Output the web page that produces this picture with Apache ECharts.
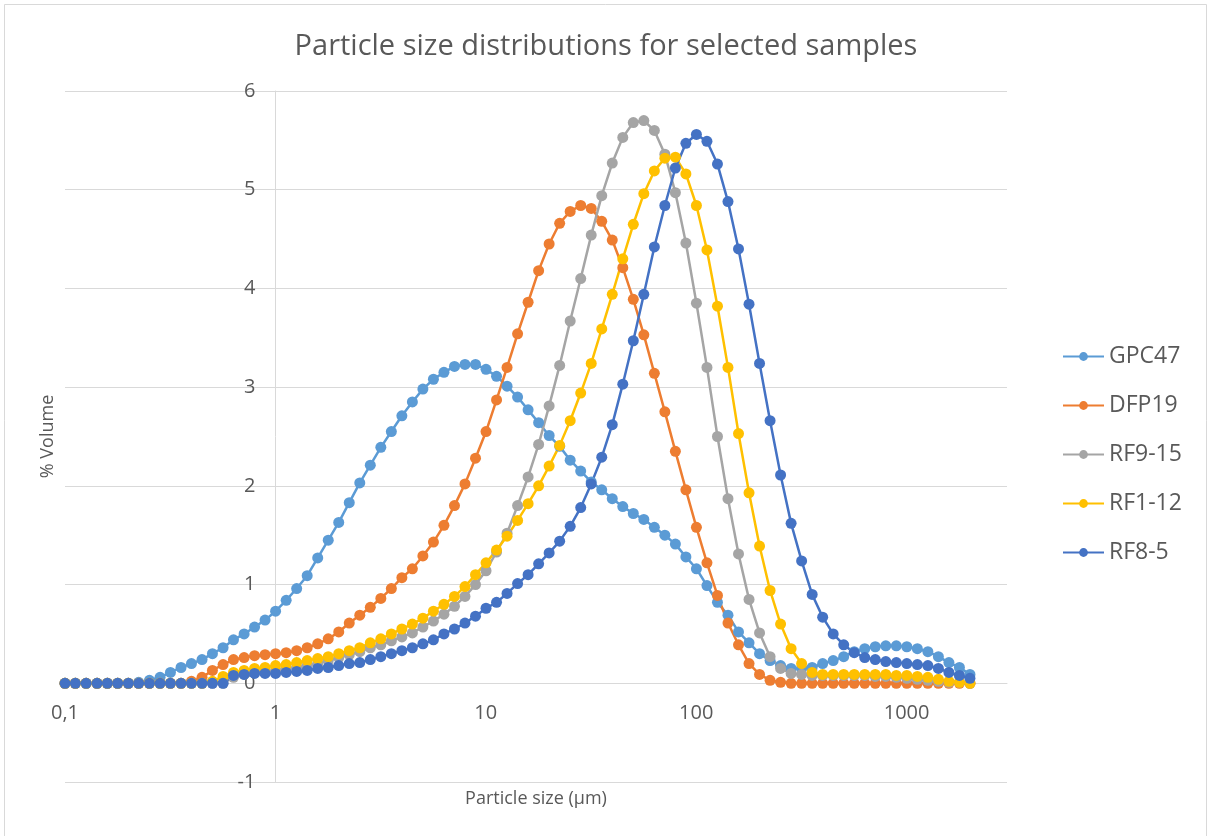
<!DOCTYPE html>
<html>
<head>
<meta charset="utf-8">
<title>Particle size distributions for selected samples</title>
<script src="https://cdn.jsdelivr.net/npm/echarts@6/dist/echarts.min.js"></script>
<style>
  html, body { margin: 0; padding: 0; background: #ffffff; }
  #chart { width: 1212px; height: 836px; }
</style>
</head>
<body>
<div id="chart"></div>
<script>
// Laser diffraction size classes (µm)
const sizes = [
  0.1, 0.112, 0.126, 0.142, 0.159, 0.178, 0.2, 0.224, 0.252, 0.283,
  0.317, 0.356, 0.399, 0.448, 0.502, 0.564, 0.632, 0.71, 0.796, 0.893,
  1.002, 1.125, 1.262, 1.416, 1.589, 1.783, 2.0, 2.244, 2.518, 2.825,
  3.17, 3.557, 3.991, 4.477, 5.024, 5.637, 6.325, 7.096, 7.962, 8.934,
  10.024, 11.247, 12.619, 14.159, 15.887, 17.825, 20.0, 22.44, 25.179, 28.251,
  31.698, 35.566, 39.905, 44.774, 50.238, 56.368, 63.246, 70.963, 79.621, 89.337,
  100.237, 112.468, 126.191, 141.589, 158.866, 178.25, 200.0, 224.404, 251.785, 282.508,
  316.979, 355.656, 399.052, 447.744, 502.377, 563.677, 632.456, 709.627, 796.214, 893.367,
  1002.374, 1124.683, 1261.915, 1415.892, 1588.656, 1782.502, 2000.0
];

// % volume per size class
const gpc47 = [
  0, 0, 0, 0, 0, 0, 0, 0.01, 0.03, 0.06,
  0.11, 0.16, 0.20, 0.24, 0.30, 0.36, 0.44, 0.50, 0.57, 0.64,
  0.73, 0.84, 0.96, 1.09, 1.27, 1.45, 1.63, 1.83, 2.03, 2.21,
  2.39, 2.55, 2.71, 2.85, 2.98, 3.08, 3.15, 3.21, 3.23, 3.23,
  3.18, 3.11, 3.01, 2.90, 2.77, 2.64, 2.51, 2.40, 2.26, 2.15,
  2.04, 1.96, 1.87, 1.79, 1.72, 1.66, 1.58, 1.50, 1.41, 1.28,
  1.16, 0.99, 0.82, 0.69, 0.52, 0.41, 0.30, 0.23, 0.18, 0.15,
  0.15, 0.16, 0.20, 0.23, 0.27, 0.32, 0.35, 0.37, 0.38, 0.38,
  0.37, 0.35, 0.32, 0.27, 0.21, 0.16, 0.09
];
const dfp19 = [
  0, 0, 0, 0, 0, 0, 0, 0, 0, 0,
  0, 0, 0.02, 0.06, 0.13, 0.19, 0.24, 0.26, 0.28, 0.29,
  0.30, 0.31, 0.33, 0.36, 0.40, 0.45, 0.52, 0.61, 0.69, 0.77,
  0.86, 0.96, 1.07, 1.16, 1.29, 1.43, 1.60, 1.80, 2.02, 2.28,
  2.55, 2.87, 3.20, 3.54, 3.86, 4.18, 4.45, 4.66, 4.78, 4.84,
  4.81, 4.68, 4.49, 4.21, 3.89, 3.53, 3.14, 2.75, 2.35, 1.96,
  1.58, 1.22, 0.89, 0.61, 0.39, 0.20, 0.09, 0.03, 0.01, 0,
  0, 0, 0, 0, 0, 0, 0, 0, 0, 0,
  0, 0, 0, 0, 0, 0, 0
];
const rf915 = [
  0, 0, 0, 0, 0, 0, 0, 0, 0, 0,
  0, 0, 0, 0, 0, 0, 0.06, 0.09, 0.11, 0.12,
  0.13, 0.15, 0.16, 0.18, 0.20, 0.23, 0.26, 0.29, 0.32, 0.36,
  0.39, 0.43, 0.47, 0.51, 0.57, 0.63, 0.70, 0.78, 0.88, 1.00,
  1.14, 1.33, 1.52, 1.80, 2.09, 2.42, 2.81, 3.22, 3.67, 4.10,
  4.54, 4.94, 5.27, 5.53, 5.68, 5.70, 5.60, 5.36, 4.97, 4.46,
  3.85, 3.20, 2.50, 1.87, 1.31, 0.85, 0.51, 0.27, 0.15, 0.10,
  0.09, 0.08, 0.08, 0.08, 0.08, 0.08, 0.08, 0.07, 0.07, 0.06,
  0.05, 0.04, 0.03, 0.02, 0.01, 0.01, 0
];
const rf112 = [
  0, 0, 0, 0, 0, 0, 0, 0, 0, 0,
  0, 0, 0, 0, 0.02, 0.07, 0.11, 0.13, 0.15, 0.16,
  0.18, 0.19, 0.21, 0.23, 0.25, 0.27, 0.30, 0.33, 0.36, 0.41,
  0.45, 0.50, 0.55, 0.60, 0.66, 0.73, 0.80, 0.88, 0.98, 1.10,
  1.22, 1.35, 1.49, 1.65, 1.82, 2.00, 2.20, 2.41, 2.66, 2.94,
  3.24, 3.59, 3.94, 4.30, 4.65, 4.96, 5.19, 5.32, 5.33, 5.16,
  4.84, 4.39, 3.82, 3.20, 2.53, 1.93, 1.39, 0.94, 0.60, 0.35,
  0.20, 0.11, 0.09, 0.09, 0.09, 0.09, 0.09, 0.09, 0.09, 0.08,
  0.08, 0.07, 0.06, 0.04, 0.02, 0.01, 0
];
const rf85 = [
  0, 0, 0, 0, 0, 0, 0, 0, 0, 0,
  0, 0, 0, 0, 0, 0, 0.08, 0.09, 0.10, 0.10,
  0.10, 0.11, 0.12, 0.13, 0.15, 0.16, 0.18, 0.20, 0.21, 0.24,
  0.27, 0.30, 0.33, 0.36, 0.40, 0.44, 0.50, 0.55, 0.61, 0.68,
  0.76, 0.82, 0.91, 1.01, 1.10, 1.21, 1.32, 1.44, 1.59, 1.78,
  2.02, 2.29, 2.62, 3.03, 3.47, 3.94, 4.42, 4.84, 5.22, 5.47,
  5.56, 5.49, 5.26, 4.88, 4.40, 3.84, 3.24, 2.66, 2.11, 1.62,
  1.24, 0.90, 0.67, 0.50, 0.39, 0.31, 0.26, 0.24, 0.22, 0.21,
  0.20, 0.19, 0.18, 0.15, 0.11, 0.08, 0.05
];

const seriesNames = ['GPC47', 'DFP19', 'RF9-15', 'RF1-12', 'RF8-5'];
const seriesValues = [gpc47, dfp19, rf915, rf112, rf85];
const seriesColors = ['#5B9BD5', '#ED7D31', '#A5A5A5', '#FFC000', '#4472C4'];

const xMin = 0.1, xMax = 3000;
const yMin = -1, yMax = 6, yStep = 1;

const FONT = '"Open Sans", "Noto Sans", sans-serif';
const TEXT = '#595959';
const GRID = '#d9d9d9';

const W = 1212, H = 836;
const gridBox = { left: 65, right: 205, top: 91, bottom: 54, outerBoundsMode: 'none', containLabel: false };
const plotWidth = W - gridBox.left - gridBox.right;
const plotHeight = H - gridBox.top - gridBox.bottom;

// vertical axis crosses the log axis at 1 µm
const crossX = 1;
const yAxisShift = plotWidth * (Math.log10(crossX) - Math.log10(xMin)) /
                   (Math.log10(xMax) - Math.log10(xMin));
// horizontal axis crosses the value axis at 0
const crossY = 0;
const xAxisShift = plotHeight * (crossY - yMin) / (yMax - yMin);

const chart = echarts.init(document.getElementById('chart'), null, { renderer: 'canvas' });

chart.setOption({
  animation: false,
  backgroundColor: '#ffffff',
  title: {
    text: 'Particle size distributions for selected samples',
    left: 'center',
    top: 27,
    textStyle: { fontFamily: FONT, fontSize: 29, fontWeight: 'normal', color: TEXT }
  },
  graphic: [{
    type: 'rect',
    shape: { x: 4.5, y: 4.5, width: 1202, height: 860 },
    style: { fill: 'none', stroke: GRID, lineWidth: 1 },
    silent: true,
    z: -1
  }],
  legend: {
    orient: 'vertical',
    left: 1057,
    top: 340,
    itemWidth: 41,
    itemHeight: 11,
    itemGap: 26,
    textStyle: { fontFamily: FONT, fontSize: 23, color: TEXT },
    data: seriesNames
  },
  grid: gridBox,
  xAxis: {
    type: 'log',
    logBase: 10,
    min: xMin,
    max: xMax,
    position: 'bottom',
    offset: -xAxisShift,
    name: 'Particle size (µm)',
    nameLocation: 'middle',
    nameGap: xAxisShift + 8,
    nameMoveOverlap: false,
    nameTextStyle: { fontFamily: FONT, fontSize: 18, color: TEXT },
    axisLine: { onZero: false, lineStyle: { color: GRID, width: 1 } },
    axisTick: { show: false },
    splitLine: { show: false },
    axisLabel: {
      margin: 20,
      fontFamily: FONT,
      fontSize: 20,
      color: TEXT,
      showMaxLabel: false,
      formatter: v => String(v).replace('.', ',')
    }
  },
  yAxis: {
    type: 'value',
    min: yMin,
    max: yMax,
    interval: yStep,
    position: 'left',
    offset: -yAxisShift,
    name: '% Volume',
    nameLocation: 'middle',
    nameRotate: 90,
    nameGap: yAxisShift + 8,
    nameMoveOverlap: false,
    nameTextStyle: { fontFamily: FONT, fontSize: 18, color: TEXT },
    axisLine: { show: true, onZero: false, lineStyle: { color: GRID, width: 1 } },
    axisTick: { show: false },
    splitLine: { show: true, lineStyle: { color: GRID, width: 1 } },
    axisLabel: { margin: 20, fontFamily: FONT, fontSize: 20, color: TEXT }
  },
  series: seriesNames.map((name, k) => ({
    name,
    type: 'line',
    symbol: 'circle',
    symbolSize: 11,
    showAllSymbol: true,
    color: seriesColors[k],
    lineStyle: { width: 2.5, color: seriesColors[k] },
    itemStyle: { color: seriesColors[k] },
    data: sizes.map((s, i) => [s, seriesValues[k][i]])
  }))
});
</script>
</body>
</html>
